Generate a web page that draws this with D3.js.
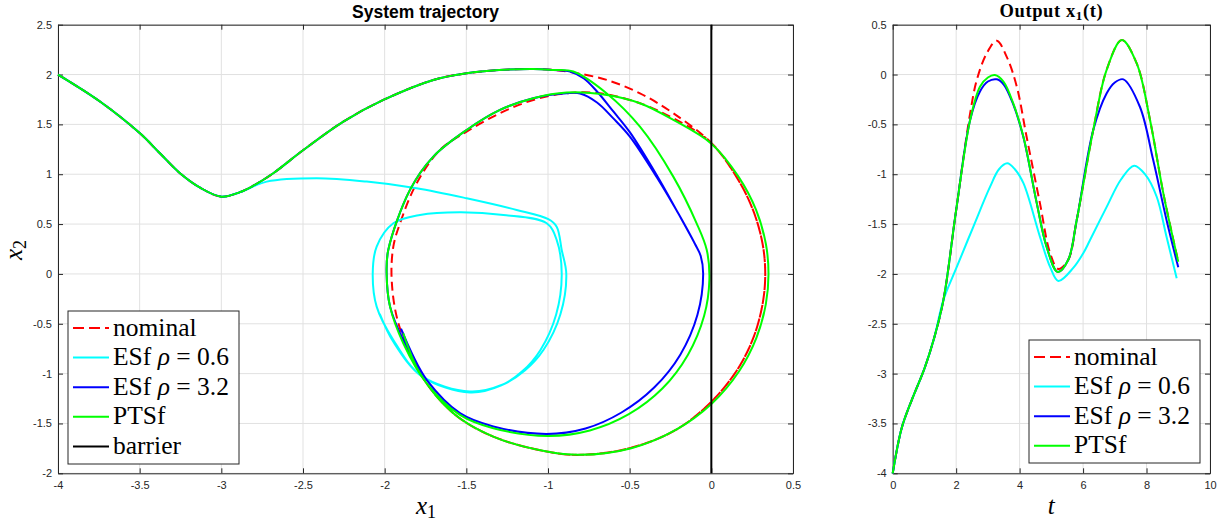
<!DOCTYPE html>
<html lang="en">
<head>
  <meta charset="UTF-8">
  <title>System trajectory</title>
  <script src="https://d3js.org/d3.v7.min.js"></script>
  <style>
    body { margin: 0; background: #fff; }
    svg { display: block; }
    .tick text { font-family: "Liberation Sans", Arial, sans-serif; font-size: 11px; fill: #262626; }
    .latex { font-family: "Liberation Serif", "Times New Roman", serif; fill: #000; }
  </style>
</head>
<body>
<div id="chart"></div>
<script>
// ---- tick labels ----
var xTicksL = [-4, -3.5, -3, -2.5, -2, -1.5, -1, -0.5, 0, 0.5];
var yTicksL = [-2, -1.5, -1, -0.5, 0, 0.5, 1, 1.5, 2, 2.5];
var xTicksR = [0, 2, 4, 6, 8, 10];
var yTicksR = [-4, -3.5, -3, -2.5, -2, -1.5, -1, -0.5, 0, 0.5];

// ---- phase plane (x1, x2) ----
// shared start of all runs
var startX1 = [-4, -3.743, -3.498, -3.376, -3.253, -3.13, -3.0, -2.886];
var startX2 = [2.0, 1.73, 1.41, 1.21, 1.01, 0.865, 0.775, 0.82];
// shared part before the top of the first arc (not taken by ESf 0.6)
var riseX1 = [-2.804, -2.682, -2.5, -2.253, -2.008, -1.702, -1.498, -1.3, -1.09, -0.967];
var riseX2 = [0.885, 1.01, 1.24, 1.528, 1.745, 1.946, 2.013, 2.045, 2.056, 2.046];

var nominalX1 = [-0.845, -0.64, -0.437, -0.233, 0.002, 0.153, 0.255, 0.314, 0.33, 0.314, 0.257, 0.153, -0.009, -0.218, -0.5, -0.804, -1.008, -1.335, -1.58, -1.784, -1.916, -1.957, -1.947, -1.906, -1.804, -1.661, -1.498, -1.294, -1.09, -0.886, -0.682, -0.437, -0.233, -0.008, 0.153, 0.255, 0.314, 0.33, 0.314, 0.257, 0.153, -0.009, -0.218, -0.5, -0.804, -1.008, -1.335, -1.58, -1.784, -1.9];
var nominalX2 = [2.02, 1.946, 1.812, 1.612, 1.31, 0.976, 0.642, 0.3, 0.0, -0.3, -0.642, -0.976, -1.297, -1.565, -1.748, -1.815, -1.782, -1.632, -1.397, -0.996, -0.494, -0.06, 0.274, 0.508, 0.91, 1.244, 1.427, 1.612, 1.745, 1.812, 1.812, 1.712, 1.561, 1.327, 0.976, 0.642, 0.3, 0.0, -0.3, -0.642, -0.976, -1.297, -1.565, -1.748, -1.815, -1.782, -1.632, -1.397, -0.996, -0.55];

var esfLowX1 = [-2.722, -2.416, -2.11, -1.804, -1.498, -1.192, -0.998, -0.947, -0.916, -0.888, -0.924, -1.026, -1.14, -1.276, -1.478, -1.776, -1.947, -2.049, -2.073, -2.049, -1.947, -1.784, -1.539, -1.273, -1.008, -0.947, -0.916, -0.95, -1.047, -1.156, -1.286, -1.478, -1.77, -1.947, -2.03];
var esfLowX2 = [0.926, 0.96, 0.926, 0.86, 0.759, 0.642, 0.549, 0.474, 0.24, 0.0, -0.404, -0.758, -0.967, -1.109, -1.18, -1.02, -0.662, -0.328, 0.007, 0.274, 0.508, 0.592, 0.619, 0.592, 0.508, 0.341, 0.0, -0.407, -0.765, -0.975, -1.118, -1.19, -1.03, -0.68, -0.4];

var esfHighX1 = [-0.865, -0.78, -0.7, -0.6, -0.498, -0.334, -0.2, -0.1, -0.065, -0.05, -0.085, -0.19, -0.35, -0.55, -0.77, -1.01, -1.335, -1.539, -1.743, -1.886, -1.967, -1.988, -1.978, -1.845, -1.702, -1.498, -1.294, -1.09, -0.886, -0.804, -0.7, -0.6, -0.5, -0.334, -0.2, -0.1, -0.065, -0.05, -0.085, -0.19, -0.35, -0.55, -0.77, -1.01, -1.335, -1.539, -1.743, -1.9];
var esfHighX2 = [2.03, 1.96, 1.83, 1.63, 1.42, 0.99, 0.6, 0.3, 0.18, 0.0, -0.41, -0.81, -1.14, -1.39, -1.55, -1.605, -1.53, -1.397, -1.063, -0.662, -0.328, 0.007, 0.24, 0.843, 1.177, 1.444, 1.645, 1.762, 1.812, 1.81, 1.72, 1.56, 1.38, 0.97, 0.6, 0.3, 0.18, 0.0, -0.41, -0.81, -1.14, -1.39, -1.55, -1.605, -1.53, -1.397, -1.063, -0.55];

var ptsfX1 = [-0.845, -0.64, -0.437, -0.233, -0.09, -0.028, -0.012, -0.044, -0.143, -0.3, -0.505, -0.744, -1.0, -1.335, -1.539, -1.743, -1.886, -1.967, -1.988, -1.978, -1.845, -1.702, -1.498, -1.294, -1.09, -0.886, -0.64, -0.437, -0.233, 0.002, 0.166, 0.274, 0.334, 0.35, 0.334, 0.276, 0.17, 0.005, -0.218, -0.49, -0.804, -1.008, -1.335, -1.58, -1.784, -1.886];
var ptsfX2 = [2.03, 1.81, 1.477, 0.976, 0.508, 0.24, -0.06, -0.42, -0.81, -1.15, -1.407, -1.57, -1.625, -1.548, -1.414, -1.097, -0.695, -0.328, 0.007, 0.24, 0.843, 1.177, 1.444, 1.645, 1.762, 1.819, 1.795, 1.712, 1.545, 1.304, 0.976, 0.642, 0.3, 0.0, -0.3, -0.642, -0.976, -1.297, -1.565, -1.748, -1.815, -1.782, -1.632, -1.397, -0.996, -0.595];

var barrierX1 = [0, 0];
var barrierX2 = [-2, 2.5];

// ---- output x1(t) ----
var tStart = [0, 0.28, 0.6, 1.0, 1.3];
var yStart = [-4, -3.55, -3.265, -2.95, -2.65];

var tNominal = [1.6, 2.0, 2.44, 2.65, 2.96, 3.28, 3.59, 3.91, 4.22, 4.64, 4.96, 5.22, 5.53, 5.8, 6.32, 6.74, 7.22, 7.69, 8.11, 8.53, 9.0];
var yNominal = [-2.26, -1.36, -0.39, -0.055, 0.21, 0.339, 0.18, -0.12, -0.624, -1.29, -1.79, -1.95, -1.86, -1.459, -0.557, 0.045, 0.346, 0.112, -0.456, -1.192, -1.878];

var tEsfLow = [1.6, 2.02, 2.54, 3.07, 3.35, 3.61, 3.85, 4.12, 4.64, 4.96, 5.22, 5.69, 6.01, 6.22, 6.74, 7.2, 7.61, 7.95, 8.32, 8.63, 8.95];
var yEsfLow = [-2.26, -1.93, -1.527, -1.125, -0.95, -0.891, -0.95, -1.09, -1.627, -1.93, -2.071, -1.94, -1.79, -1.66, -1.33, -1.05, -0.915, -1.0, -1.226, -1.627, -2.044];

var tEsfHigh = [1.6, 2.0, 2.44, 2.75, 3.0, 3.28, 3.5, 3.8, 4.12, 4.54, 4.85, 5.2, 5.53, 5.8, 6.32, 6.74, 7.0, 7.27, 7.79, 8.21, 8.63, 9.0];
var yEsfHigh = [-2.26, -1.36, -0.456, -0.17, -0.07, -0.048, -0.1, -0.3, -0.63, -1.29, -1.727, -1.98, -1.86, -1.459, -0.557, -0.19, -0.08, -0.048, -0.323, -0.858, -1.459, -1.934];

var tPtsf = [1.6, 2.0, 2.44, 2.75, 3.0, 3.22, 3.49, 3.8, 4.12, 4.54, 4.85, 5.2, 5.53, 5.8, 6.32, 6.74, 7.22, 7.69, 8.11, 8.53, 9.0];
var yPtsf = [-2.26, -1.36, -0.456, -0.122, -0.03, -0.005, -0.07, -0.29, -0.624, -1.29, -1.727, -1.98, -1.86, -1.459, -0.557, 0.045, 0.346, 0.112, -0.456, -1.192, -1.878];

var colors = { nominal: "#ff0000", esfLow: "#00ffff", esfHigh: "#0000ff", ptsf: "#00ff00", barrier: "#000000" };

function zip(a, b) { return a.map(function(v, i) { return [v, b[i]]; }); }

var svg = d3.select("#chart").append("svg")
  .attr("width", 1226)
  .attr("height", 525);

var axisColor = "#262626";

function drawAxes(x, y, xTicks, yTicks) {
  var g = svg.append("g");
  var x0 = x.range()[0], x1 = x.range()[1], y0 = y.range()[0], y1 = y.range()[1];

  // grid
  g.selectAll(".gx").data(xTicks).enter().append("line")
    .attr("x1", function(d) { return x(d); }).attr("x2", function(d) { return x(d); })
    .attr("y1", y0).attr("y2", y1)
    .attr("stroke", "#e1e1e1").attr("stroke-width", 1);
  g.selectAll(".gy").data(yTicks).enter().append("line")
    .attr("y1", function(d) { return y(d); }).attr("y2", function(d) { return y(d); })
    .attr("x1", x0).attr("x2", x1)
    .attr("stroke", "#e1e1e1").attr("stroke-width", 1);

  var fmt = function(d) { return String(d); };
  var none = function() { return ""; };

  var ax = [
    svg.append("g").attr("transform", "translate(0," + y0 + ")")
      .call(d3.axisBottom(x).tickValues(xTicks).tickFormat(fmt).tickSizeInner(-5).tickSizeOuter(0).tickPadding(8)),
    svg.append("g").attr("transform", "translate(0," + y1 + ")")
      .call(d3.axisTop(x).tickValues(xTicks).tickFormat(none).tickSizeInner(-5).tickSizeOuter(0)),
    svg.append("g").attr("transform", "translate(" + x0 + ",0)")
      .call(d3.axisLeft(y).tickValues(yTicks).tickFormat(fmt).tickSizeInner(-5).tickSizeOuter(0).tickPadding(6)),
    svg.append("g").attr("transform", "translate(" + x1 + ",0)")
      .call(d3.axisRight(y).tickValues(yTicks).tickFormat(none).tickSizeInner(-5).tickSizeOuter(0))
  ];
  ax.forEach(function(a) {
    a.selectAll("path").attr("stroke", axisColor).attr("stroke-width", 1);
    a.selectAll("line").attr("stroke", axisColor).attr("stroke-width", 1);
  });
  return g;
}

function drawLine(x, y, pts, color, dashed, lin) {
  var line = d3.line()
    .x(function(d) { return x(d[0]); })
    .y(function(d) { return y(d[1]); })
    .curve(lin ? d3.curveLinear : d3.curveCatmullRom.alpha(0.5));
  svg.append("path")
    .datum(pts)
    .attr("d", line)
    .attr("fill", "none")
    .attr("stroke", color)
    .attr("stroke-width", 2)
    .attr("stroke-linejoin", "round")
    .attr("stroke-dasharray", dashed ? "9,5" : null);
}

function legend(x, y, w, h, entries) {
  var g = svg.append("g");
  g.append("rect").attr("x", x).attr("y", y).attr("width", w).attr("height", h)
    .attr("fill", "#fff").attr("stroke", axisColor).attr("stroke-width", 1);
  entries.forEach(function(e, i) {
    var cy = y + 17 + i * 29.6;
    g.append("line").attr("x1", x + 5).attr("x2", x + 41).attr("y1", cy).attr("y2", cy)
      .attr("stroke", e.color).attr("stroke-width", 2)
      .attr("stroke-dasharray", e.dashed ? "11,5" : null);
    var t = g.append("text").attr("class", "latex").attr("x", x + 45).attr("y", cy + 7.5)
      .attr("font-size", 25.5);
    if (e.rho) {
      t.append("tspan").text("ESf ");
      t.append("tspan").attr("font-style", "italic").text("ρ");
      t.append("tspan").text(" = " + e.rho);
    } else {
      t.text(e.label);
    }
  });
}

// ---------------- left: phase plane ----------------
var xL = d3.scaleLinear().domain([-4, 0.5]).range([58, 793]);
var yL = d3.scaleLinear().domain([-2, 2.5]).range([473.3, 24.7]);
drawAxes(xL, yL, xTicksL, yTicksL);

var common = zip(startX1, startX2).concat(zip(riseX1, riseX2));
drawLine(xL, yL, common.concat(zip(nominalX1, nominalX2)), colors.nominal, true);
drawLine(xL, yL, zip(startX1, startX2).concat(zip(esfLowX1, esfLowX2)), colors.esfLow, false);
drawLine(xL, yL, common.concat(zip(esfHighX1, esfHighX2)), colors.esfHigh, false);
drawLine(xL, yL, common.concat(zip(ptsfX1, ptsfX2)), colors.ptsf, false);
drawLine(xL, yL, zip(barrierX1, barrierX2), colors.barrier, false, true);

svg.append("text")
  .attr("x", (xL.range()[0] + xL.range()[1]) / 2).attr("y", 18)
  .attr("text-anchor", "middle")
  .attr("font-family", "Liberation Sans, Arial, sans-serif")
  .attr("font-weight", "bold").attr("font-size", 17.5)
  .text("System trajectory");

var xl = svg.append("text").attr("class", "latex").attr("x", 426).attr("y", 514)
  .attr("text-anchor", "middle").attr("font-size", 25);
xl.append("tspan").attr("font-style", "italic").text("x");
xl.append("tspan").attr("font-size", 18).attr("dy", 4).text("1");

var yl = svg.append("text").attr("class", "latex")
  .attr("transform", "translate(22,250) rotate(-90)")
  .attr("text-anchor", "middle").attr("font-size", 25);
yl.append("tspan").attr("font-style", "italic").text("x");
yl.append("tspan").attr("font-size", 18).attr("dy", 4).text("2");

legend(68, 311, 171, 153, [
  { label: "nominal", color: colors.nominal, dashed: true },
  { rho: "0.6", color: colors.esfLow },
  { rho: "3.2", color: colors.esfHigh },
  { label: "PTSf", color: colors.ptsf },
  { label: "barrier", color: colors.barrier }
]);

// ---------------- right: output ----------------
var xR = d3.scaleLinear().domain([0, 10]).range([892.7, 1210]);
var yR = d3.scaleLinear().domain([-4, 0.5]).range([473.3, 24.7]);
drawAxes(xR, yR, xTicksR, yTicksR);

var start = zip(tStart, yStart);
drawLine(xR, yR, start.concat(zip(tNominal, yNominal)), colors.nominal, true);
drawLine(xR, yR, start.concat(zip(tEsfLow, yEsfLow)), colors.esfLow, false);
drawLine(xR, yR, start.concat(zip(tEsfHigh, yEsfHigh)), colors.esfHigh, false);
drawLine(xR, yR, start.concat(zip(tPtsf, yPtsf)), colors.ptsf, false);

var rt = svg.append("text").attr("class", "latex")
  .attr("x", (xR.range()[0] + xR.range()[1]) / 2).attr("y", 17)
  .attr("text-anchor", "middle").attr("font-weight", "bold").attr("font-size", 18.5)
  .attr("letter-spacing", 0.6);
rt.append("tspan").text("Output x");
rt.append("tspan").attr("font-size", 13).attr("dy", 3).text("1");
rt.append("tspan").attr("dy", -3).text("(t)");

svg.append("text").attr("class", "latex")
  .attr("x", (xR.range()[0] + xR.range()[1]) / 2).attr("y", 514)
  .attr("text-anchor", "middle").attr("font-size", 25).attr("font-style", "italic")
  .text("t");

legend(1029, 340, 171, 123, [
  { label: "nominal", color: colors.nominal, dashed: true },
  { rho: "0.6", color: colors.esfLow },
  { rho: "3.2", color: colors.esfHigh },
  { label: "PTSf", color: colors.ptsf }
]);
</script>
</body>
</html>
